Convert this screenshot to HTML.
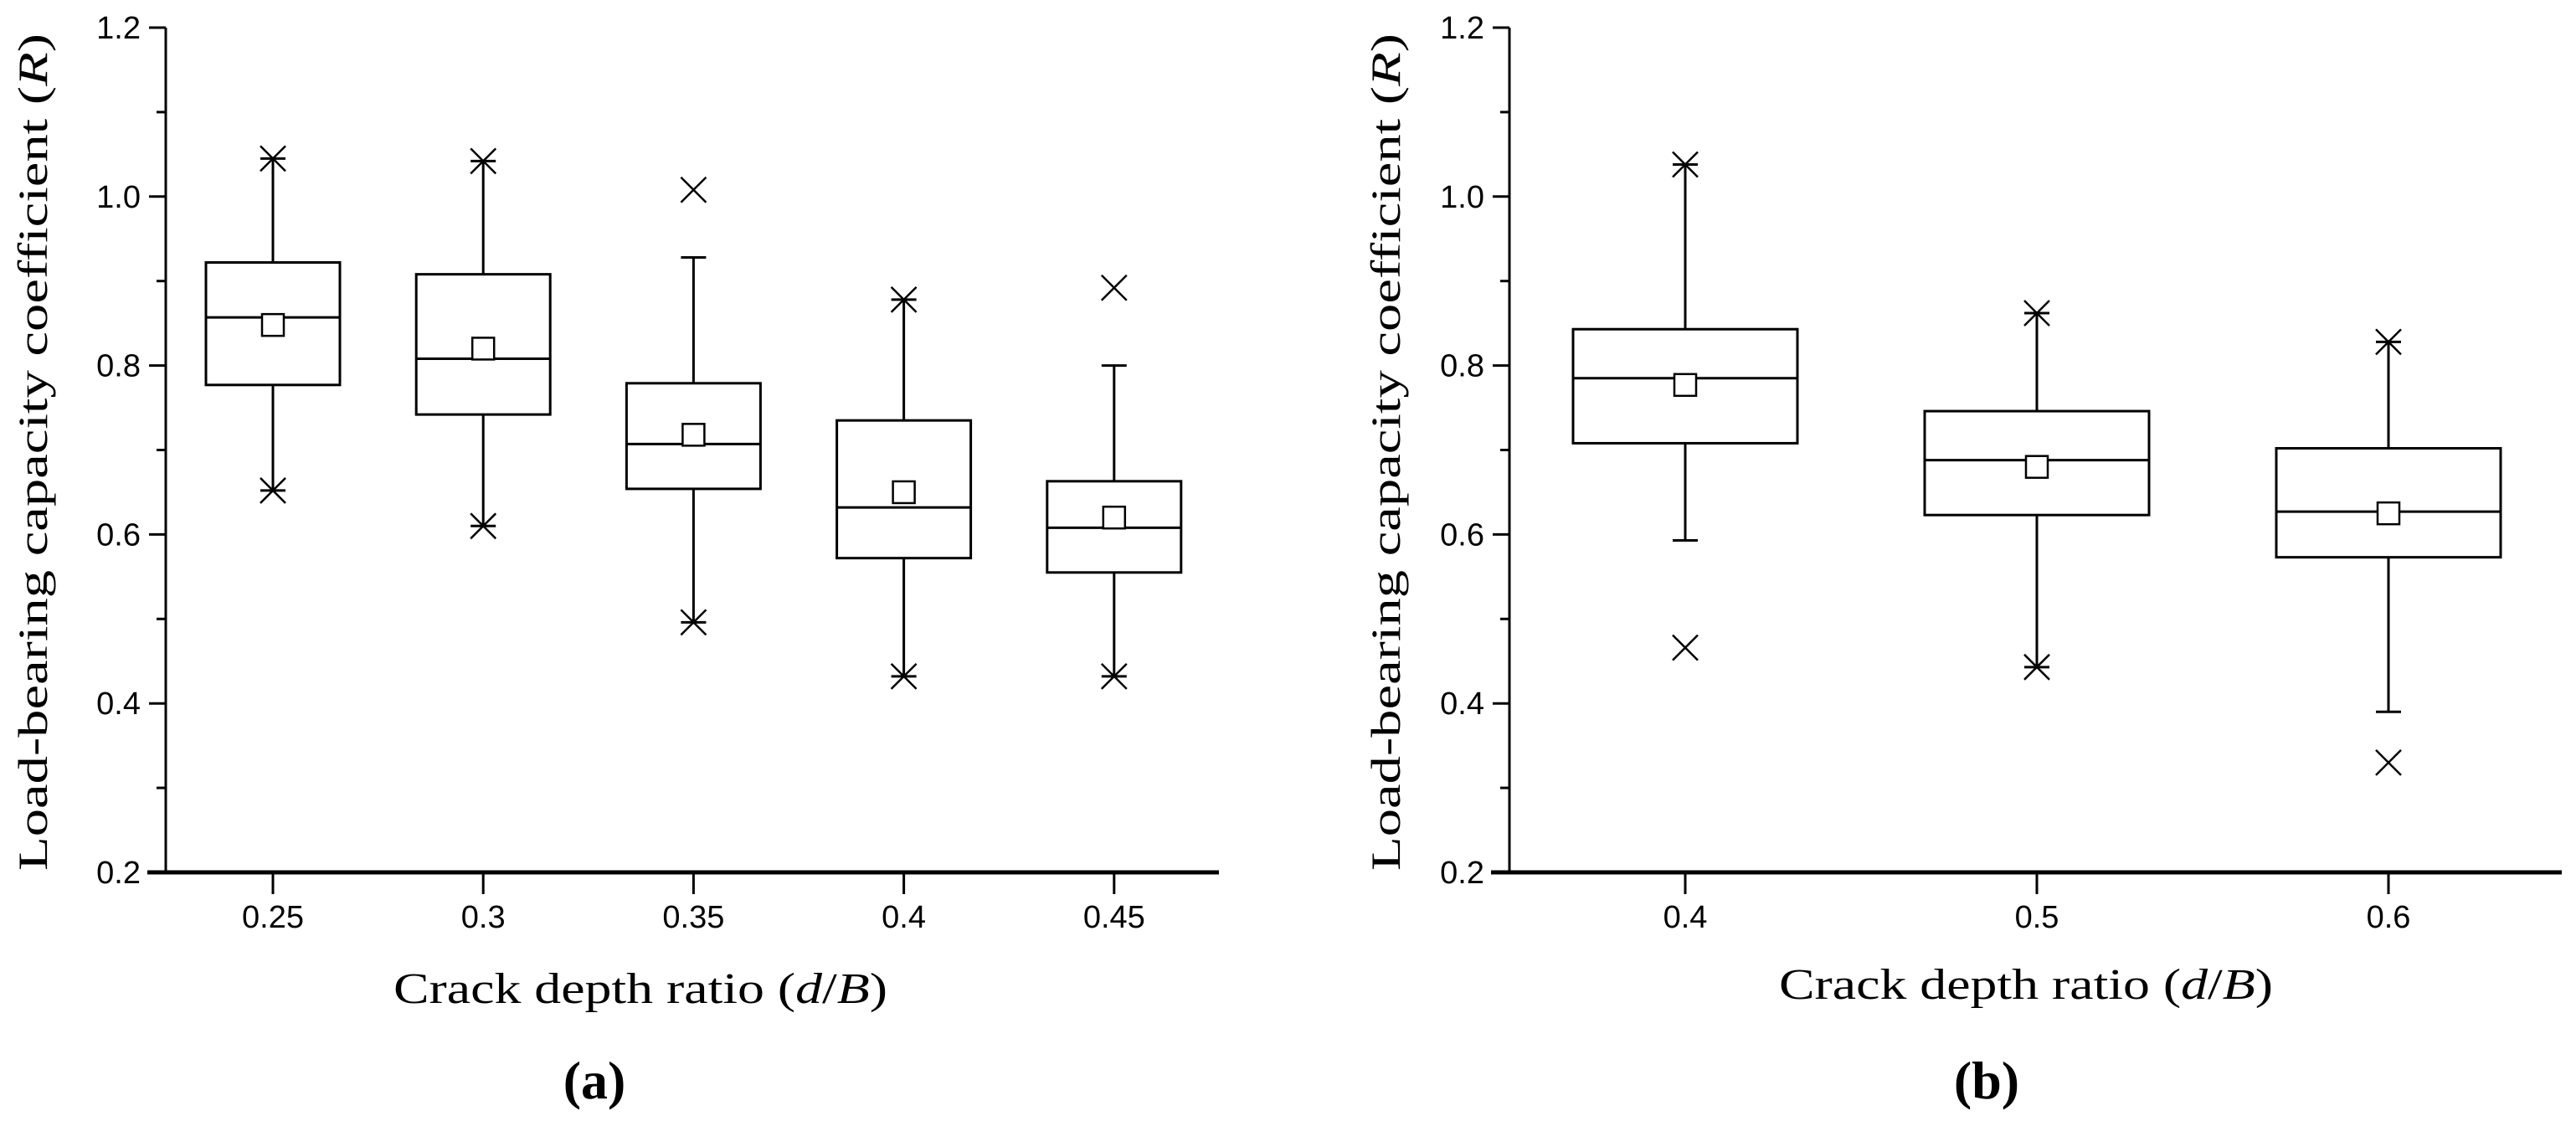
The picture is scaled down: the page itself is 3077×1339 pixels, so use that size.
<!DOCTYPE html>
<html><head><meta charset="utf-8"><style>
html,body{margin:0;padding:0;background:#fff}
svg{display:block}
text{font-family:"Liberation Sans",sans-serif;fill:#000}
.serif{font-family:"Liberation Serif",serif}
</style></head><body>
<svg id="chart" width="3077" height="1339" viewBox="0 0 3077 1339" xmlns="http://www.w3.org/2000/svg"></svg>
<script>
// Panel (a)
const catsA = ["0.25","0.3","0.35","0.4","0.45"];
const q3A = [0.922,0.908,0.779,0.735,0.663];
const q1A = [0.777,0.742,0.654,0.572,0.555];
const medA = [0.857,0.808,0.707,0.632,0.608];
const meanA = [0.848,0.820,0.718,0.650,0.620];
const whiskHiA = [1.045,1.042,0.928,0.878,0.800];
const whiskLoA = [0.652,0.610,0.496,0.432,0.432];
const crossHiA = [1.045,1.042,1.008,0.878,0.892];
const crossLoA = [0.652,0.610,0.496,0.432,0.432];
// Panel (b)
const catsB = ["0.4","0.5","0.6"];
const q3B = [0.843,0.746,0.702];
const q1B = [0.708,0.623,0.573];
const medB = [0.785,0.688,0.627];
const meanB = [0.777,0.680,0.625];
const whiskHiB = [1.038,0.862,0.828];
const whiskLoB = [0.593,0.443,0.390];
const crossHiB = [1.038,0.862,0.828];
const crossLoB = [0.466,0.443,0.330];
const yTicks = [0.2,0.4,0.6,0.8,1.0,1.2];
const yTickLabels = ["0.2","0.4","0.6","0.8","1.0","1.2"];
const yMinor = [0.3,0.5,0.7,0.9,1.1];

const svg = document.getElementById('chart');
const NS = 'http://www.w3.org/2000/svg';
function mk(tag, attrs, parent){const e=document.createElementNS(NS,tag);for(const k in attrs)e.setAttribute(k,attrs[k]);(parent||svg).appendChild(e);return e;}
function yS(v){return 1042 - (v-0.2)*1009;}

function panel(p){
  const g = mk('g',{});
  
  
  const xS = i => p.x0 + i*p.step;
  const ya = mk('line',{x1:p.ax,y1:yS(1.2),x2:p.ax,y2:1042,stroke:'#000','stroke-width':3},g);
  
  
  const xa = mk('line',{x1:p.ax-22,y1:1042,x2:p.axEnd,y2:1042,stroke:'#000','stroke-width':5},g);
  
  
  yTicks.forEach((v,i)=>{
    mk('line',{x1:p.ax-20,y1:yS(v),x2:p.ax,y2:yS(v),stroke:'#000','stroke-width':3},g);
    const t = mk('text',{x:p.ax-30,y:yS(v)+13,'font-size':38,'text-anchor':'end'},g);
    t.textContent = yTickLabels[i];
    
    
  });
  yMinor.forEach(v=>mk('line',{x1:p.ax-11,y1:yS(v),x2:p.ax,y2:yS(v),stroke:'#000','stroke-width':3},g));
  p.cats.forEach((c,i)=>{
    const cx = xS(i);
    mk('line',{x1:cx,y1:1042,x2:cx,y2:1068,stroke:'#000','stroke-width':3},g);
    const t = mk('text',{x:cx,y:1108,'font-size':38,'text-anchor':'middle'},g);
    t.textContent = c;
    
    
    const bx = mk('g',{},g);
    
    
    const hw = p.bw/2;
    mk('line',{x1:cx,y1:yS(p.wh[i]),x2:cx,y2:yS(p.q3[i]),stroke:'#000','stroke-width':3},bx);
    mk('line',{x1:cx,y1:yS(p.q1[i]),x2:cx,y2:yS(p.wl[i]),stroke:'#000','stroke-width':3},bx);
    mk('line',{x1:cx-15,y1:yS(p.wh[i]),x2:cx+15,y2:yS(p.wh[i]),stroke:'#000','stroke-width':3},bx);
    mk('line',{x1:cx-15,y1:yS(p.wl[i]),x2:cx+15,y2:yS(p.wl[i]),stroke:'#000','stroke-width':3},bx);
    mk('rect',{x:cx-hw,y:yS(p.q3[i]),width:p.bw,height:yS(p.q1[i])-yS(p.q3[i]),fill:'none',stroke:'#000','stroke-width':3},bx);
    mk('line',{x1:cx-hw,y1:yS(p.med[i]),x2:cx+hw,y2:yS(p.med[i]),stroke:'#000','stroke-width':3},bx);
    const m = mk('rect',{x:cx-13,y:yS(p.mean[i])-13,width:26,height:26,fill:'#fff',stroke:'#000','stroke-width':2.5},bx);
    
    
    [p.ch[i],p.cl[i]].forEach(v=>{
      const y=yS(v), s=15;
      const x1 = mk('path',{d:`M${cx-s} ${y-s}L${cx+s} ${y+s}M${cx+s} ${y-s}L${cx-s} ${y+s}`,stroke:'#000','stroke-width':2.5,fill:'none'},bx);
      
      
    });
  });
  const yl = mk('text',{x:0,y:0,'font-size':50,'text-anchor':'middle',class:'serif',transform:`translate(${p.ylx},540) rotate(-90)`,textLength:1000,lengthAdjust:'spacingAndGlyphs'},g);
  yl.innerHTML = 'Load-bearing capacity coefficient (<tspan font-style="italic">R</tspan>)';
  
  
  const xl = mk('text',{x:p.xlx,y:p.xly,'font-size':52,'text-anchor':'middle',class:'serif',textLength:590,lengthAdjust:'spacingAndGlyphs'},g);
  xl.innerHTML = 'Crack depth ratio (<tspan font-style="italic">d</tspan>/<tspan font-style="italic">B</tspan>)';
  
  
  const pl = mk('text',{x:p.plx,y:1312,'font-size':64,'text-anchor':'middle',class:'serif','font-weight':'bold'},g);
  pl.textContent = p.label;
  
  
}
panel({name:'panel-a',cats:catsA,q3:q3A,q1:q1A,med:medA,mean:meanA,wh:whiskHiA,wl:whiskLoA,ch:crossHiA,cl:crossLoA,
  ax:198,axEnd:1456,x0:326,step:251.2,bw:160,ylx:56,xlx:765,xly:1198,plx:710,label:'(a)'});
panel({name:'panel-b',cats:catsB,q3:q3B,q1:q1B,med:medB,mean:meanB,wh:whiskHiB,wl:whiskLoB,ch:crossHiB,cl:crossLoB,
  ax:1803,axEnd:3060,x0:2013,step:420,bw:268,ylx:1672,xlx:2420,xly:1193,plx:2373,label:'(b)'});
</script>
</body></html>
